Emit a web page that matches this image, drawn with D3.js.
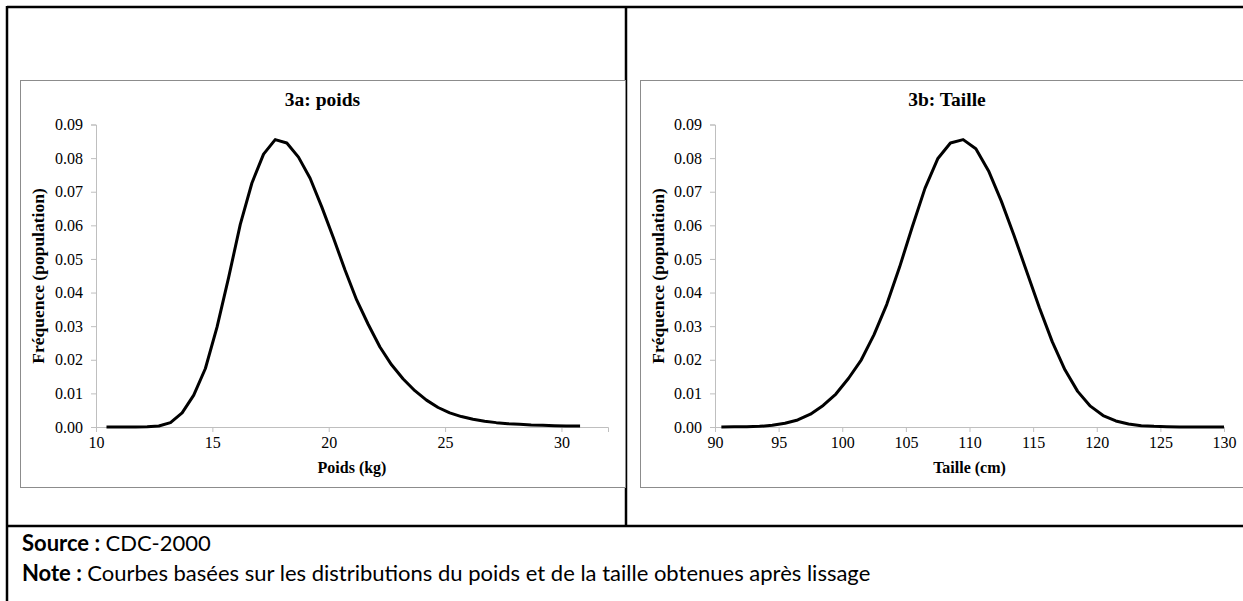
<!DOCTYPE html>
<html>
<head>
<meta charset="utf-8">
<script src="https://cdnjs.cloudflare.com/ajax/libs/d3/7.8.5/d3.min.js"></script>
<style>
body { margin: 0; background: #fff; }
svg { display: block; }
</style>
</head>
<body>
<div id="chart"></div>
<script>
// data
const poidsX = [10.45, 11.2, 11.7, 12.2, 12.7, 13.2, 13.7, 14.2, 14.7, 15.2, 15.7, 16.2, 16.7, 17.2, 17.7,
  18.2, 18.7, 19.2, 19.7, 20.2, 20.7, 21.2, 21.7, 22.2, 22.7, 23.2, 23.7, 24.2, 24.7, 25.2, 25.7,
  26.2, 26.7, 27.2, 27.7, 28.2, 28.7, 29.2, 29.7, 30.2, 30.8];
const poidsFreq = [0, 0, 0, 0.0001, 0.0003, 0.0013, 0.0042, 0.0095, 0.0174, 0.0297, 0.0445, 0.0603, 0.0726, 0.0812, 0.0855,
  0.0845, 0.0803, 0.0740, 0.0655, 0.0563, 0.0467, 0.0378, 0.0305, 0.0238, 0.0185, 0.0143, 0.0108, 0.0080, 0.0058, 0.0042, 0.0031,
  0.0023, 0.0017, 0.0013, 0.0010, 0.0008, 0.0006, 0.0005, 0.0004, 0.0003, 0.0003];

const tailleX = [90.5, 91.5, 92.5, 93.5, 94.5, 95.5, 96.5, 97.5, 98.5, 99.5, 100.5, 101.5, 102.5, 103.5, 104.5,
  105.5, 106.5, 107.5, 108.5, 109.5, 110.5, 111.5, 112.5, 113.5, 114.5, 115.5, 116.5, 117.5, 118.5, 119.5,
  120.5, 121.5, 122.5, 123.5, 124.5, 125.5, 126.5, 127.5, 128.5, 129.5, 130];
const tailleFreq = [0, 0.0001, 0.0001, 0.0002, 0.0005, 0.0011, 0.0021, 0.0038, 0.0064, 0.0098, 0.0145, 0.0200, 0.0275, 0.0365, 0.0475,
  0.0595, 0.0710, 0.0798, 0.0845, 0.0855, 0.0828, 0.0762, 0.0672, 0.0570, 0.0462, 0.0354, 0.0254, 0.0170, 0.0106, 0.0062,
  0.0034, 0.0018, 0.0009, 0.0004, 0.0002, 0.0001, 0, 0, 0, 0, 0];

const yTicks = [0, 0.01, 0.02, 0.03, 0.04, 0.05, 0.06, 0.07, 0.08, 0.09];
const poidsTicks = [10, 15, 20, 25, 30];
const tailleTicks = [90, 95, 100, 105, 110, 115, 120, 125, 130];

const width = 1243, height = 601;
const serif = "Liberation Serif, Times New Roman, serif";
const svg = d3.select("#chart").append("svg").attr("width", width).attr("height", height);

// frame of the table
const frame = svg.append("g").attr("stroke", "#000").attr("stroke-width", 2.5);
frame.append("line").attr("x1", 7).attr("x2", width).attr("y1", 7).attr("y2", 7);
frame.append("line").attr("x1", 7).attr("x2", 7).attr("y1", 6).attr("y2", height);
frame.append("line").attr("x1", 626).attr("x2", 626).attr("y1", 7).attr("y2", 526);
frame.append("line").attr("x1", 7).attr("x2", width).attr("y1", 526).attr("y2", 526);

function styleAxis(sel) {
  sel.attr("font-family", serif).attr("font-size", 16);
  sel.selectAll("path, line").attr("stroke", "#bfbfbf");
  sel.selectAll("text").attr("fill", "#000");
}

function drawChart(opt) {
  const g = svg.append("g");
  g.append("rect").attr("x", opt.box[0] + 0.5).attr("y", 80.5)
    .attr("width", opt.box[1] - opt.box[0]).attr("height", 407)
    .attr("fill", "#fff").attr("stroke", "#8c8c8c");

  g.append("text").attr("x", (opt.box[0] + opt.box[1]) / 2).attr("y", 106)
    .attr("text-anchor", "middle")
    .style("font-family", serif).style("font-weight", "bold").style("font-size", "19.5px")
    .text(opt.title);

  const x = d3.scaleLinear().domain(opt.xDomain).range(opt.xRange);
  const y = d3.scaleLinear().domain([0, 0.09]).range([427, 124.5]);

  g.append("g").attr("transform", "translate(" + opt.xRange[0] + ",0)")
    .call(d3.axisLeft(y).tickValues(yTicks).tickFormat(d3.format(".2f")).tickSize(5).tickPadding(8))
    .call(styleAxis);
  g.append("g").attr("transform", "translate(0,427)")
    .call(d3.axisBottom(x).tickValues(opt.xTicks).tickSize(5).tickPadding(5))
    .call(styleAxis);

  g.append("text").attr("transform", "translate(" + (opt.box[0] + 24) + ",276) rotate(-90)")
    .attr("text-anchor", "middle")
    .style("font-family", serif).style("font-weight", "bold").style("font-size", "17.5px")
    .text("Fréquence (population)");
  g.append("text").attr("x", (opt.xRange[0] + opt.xRange[1]) / 2).attr("y", 473)
    .attr("text-anchor", "middle")
    .style("font-family", serif).style("font-weight", "bold").style("font-size", "16px")
    .text(opt.xLabel);

  const pts = opt.xs.map((v, i) => [v, opt.ys[i]]);
  g.append("path").datum(pts)
    .attr("fill", "none").attr("stroke", "#000").attr("stroke-width", 3).attr("stroke-linejoin", "round")
    .attr("d", d3.line().x(d => x(d[0])).y(d => y(d[1])));
}

drawChart({ box: [20, 625], title: "3a: poids", xDomain: [10, 32], xRange: [96, 608],
  xTicks: poidsTicks, xLabel: "Poids (kg)", xs: poidsX, ys: poidsFreq });
drawChart({ box: [640, 1254], title: "3b: Taille", xDomain: [90, 130], xRange: [715, 1224],
  xTicks: tailleTicks, xLabel: "Taille (cm)", xs: tailleX, ys: tailleFreq });

// source and note
const foot = svg.append("g").style("font-family", "Lato, sans-serif").style("font-size", "22px");
const s = foot.append("text").attr("x", 22).attr("y", 551);
s.append("tspan").style("font-weight", "bold").text("Source : ");
s.append("tspan").text("CDC-2000");
const n = foot.append("text").attr("x", 22).attr("y", 581);
n.append("tspan").style("font-weight", "bold").text("Note : ");
n.append("tspan").text("Courbes basées sur les distributions du poids et de la taille obtenues après lissage");
</script>
</body>
</html>
